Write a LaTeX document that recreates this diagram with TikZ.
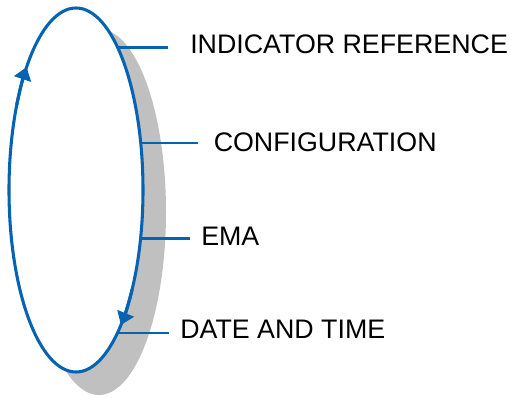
\documentclass[tikz,border=0pt]{standalone}
\usepackage{fontspec}
\setmainfont{Liberation Sans}
\usetikzlibrary{arrows.meta}
\definecolor{loopblue}{RGB}{5,99,177}
\definecolor{shadegray}{RGB}{192,192,192}
\begin{document}
\begin{tikzpicture}[x=0.75pt,y=-0.75pt,
  loopline/.style={draw=loopblue,line width=2.3pt},
  lead/.style={draw=loopblue,line width=2pt},
  loopaxes/.style={x radius=67,y radius=182},
  tipline/.style={draw=loopblue,line width=2.3pt,
    -{Triangle[length=9.5pt,width=13pt,fill=loopblue]}},
  caption/.style={anchor=west,inner sep=0pt,
    font=\fontsize{20.1}{24}\selectfont}]
\useasboundingbox (0,0) rectangle (513,399);

% centre of the cycle
\coordinate (c) at (76,190);

% drop shadow and the cycle itself
\fill[shadegray] (99,212) ellipse [x radius=67,y radius=183];
\draw[loopline,fill=white] (c) ellipse [loopaxes];

% direction arrows on the cycle
\draw[tipline] (c) ++(208:67 and 182)
  arc[start angle=208,end angle=222.5,loopaxes];
\draw[tipline] (c) ++(33:67 and 182)
  arc[start angle=33,end angle=47.9,loopaxes];

% points on the cycle where the leads start
\path (c) ++(-51.44:67 and 182) coordinate (p1);
\path (c) ++(-14.97:67 and 182) coordinate (p2);
\path (c) ++(15.45:67 and 182) coordinate (p3);
\path (c) ++(51.79:67 and 182) coordinate (p4);

% free ends of the leads
\coordinate (e1) at (168,0);
\coordinate (e2) at (198,0);
\coordinate (e3) at (190,0);
\coordinate (e4) at (169,0);

\draw[lead] (p1) -- (p1 -| e1);
\draw[lead] (p2) -- (p2 -| e2);
\draw[lead] (p3) -- (p3 -| e3);
\draw[lead] (p4) -- (p4 -| e4);

% captions
\node[caption] (t1) at (190,44) {INDICATOR REFERENCE};
\node[caption] (t2) at (213.5,142) {CONFIGURATION};
\node[caption] (t3) at (201,236) {EMA};
\node[caption] (t4) at (180,329.5) {DATE AND TIME};
\end{tikzpicture}
\end{document}
